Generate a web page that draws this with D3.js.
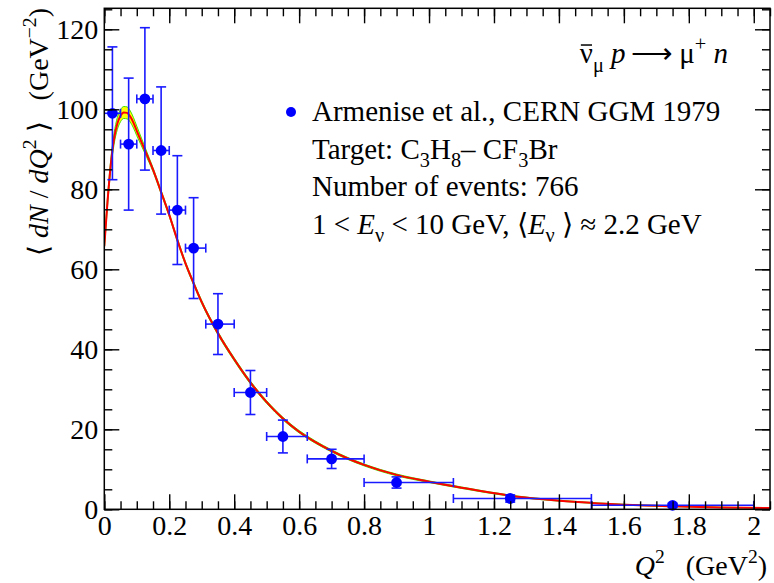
<!DOCTYPE html>
<html>
<head>
<meta charset="utf-8">
<script src="https://cdn.jsdelivr.net/npm/d3@7"></script>
<style>
  body { margin: 0; background: #fff; }
  text { font-family: "Liberation Serif", "Times New Roman", serif; fill: #000; }
</style>
</head>
<body>
<svg id="chart" width="774" height="583"></svg>
<script>
// Measured <dN/dQ2> per Q2 bin: bin centre, bin edges, value and uncertainty
const q2      = [0.025, 0.075, 0.125, 0.175, 0.225, 0.275, 0.35, 0.45, 0.55, 0.70, 0.90, 1.25, 1.75];
const q2Low   = [0.0, 0.05, 0.10, 0.15, 0.20, 0.25, 0.3125, 0.40, 0.50, 0.625, 0.80, 1.075, 1.50];
const q2High  = [0.05, 0.10, 0.15, 0.20, 0.25, 0.3125, 0.40, 0.50, 0.625, 0.80, 1.075, 1.50, 2.00];
const dNdQ2   = [99.0, 91.3, 102.6, 89.7, 74.8, 65.3, 46.3, 29.2, 18.2, 12.6, 6.7, 2.7, 1.0];
const dNdQ2Err= [16.6, 16.5, 17.8, 15.9, 13.6, 12.6, 7.6, 5.5, 4.1, 2.4, 1.4, 0.9, 0.5];

// Prediction: central curve and the half-width of its uncertainty band
const fitQ2   = [0.0, 0.01, 0.02, 0.03, 0.04, 0.05, 0.06, 0.07, 0.08, 0.09, 0.10, 0.125, 0.15, 0.175, 0.20, 0.225, 0.25,
                 0.275, 0.30, 0.35, 0.40, 0.45, 0.50, 0.55, 0.60, 0.65, 0.70, 0.75, 0.80, 0.90, 1.00, 1.10, 1.25,
                 1.50, 1.75, 2.05];
const fitVal  = [65.8, 77.0, 86.2, 92.6, 96.4, 98.4, 99.2, 99.1, 98.2, 96.6, 94.6, 89.8, 84.9, 79.3, 73.6, 67.3, 61.5,
                 56.5, 51.8, 44.0, 37.5, 31.7, 26.8, 22.7, 19.4, 16.8, 14.6, 12.7, 11.1, 8.6, 6.9, 5.4, 3.4,
                 1.6, 0.75, 0.3];
const fitBand = [1.0, 1.2, 1.3, 1.4, 1.5, 1.5, 1.5, 1.5, 1.4, 1.3, 1.2, 0.8, 0.5, 0.45, 0.4, 0.4, 0.4,
                 0.4, 0.4, 0.4, 0.38, 0.36, 0.34, 0.32, 0.3, 0.28, 0.26, 0.25, 0.24, 0.22, 0.2, 0.18, 0.15,
                 0.1, 0.07, 0.05];

// Axis ticks and labels
const xTicks = [0, 0.2, 0.4, 0.6, 0.8, 1.0, 1.2, 1.4, 1.6, 1.8, 2.0];
const xTickLabels = ["0", "0.2", "0.4", "0.6", "0.8", "1", "1.2", "1.4", "1.6", "1.8", "2"];
const yTicks = [0, 20, 40, 60, 80, 100, 120];
const yTickLabels = ["0", "20", "40", "60", "80", "100", "120"];

const svg = d3.select("#chart");
const pLeft = 104.3, pRight = 770, pTop = 8.3, pBottom = 509.3;
const x = d3.scaleLinear().domain([0, 2.05]).range([pLeft, pRight]);
const y = d3.scaleLinear().domain([0, 125.25]).range([pBottom, pTop]);
const FS = 28;     // axis labels and titles
const LFS = 29;    // legend and reaction label

svg.append("defs").append("clipPath").attr("id", "plotArea")
  .append("rect").attr("x", pLeft).attr("y", pTop).attr("width", pRight - pLeft).attr("height", pBottom - pTop);

// Rich text helper: parts are [string, kind] with kind in "", "i", "sub", "sup", "isub"
function rich(sel, parts, fs) {
  let shift = 0;
  parts.forEach(([str, k = ""]) => {
    const isSub = k.includes("sub"), isSup = k.includes("sup");
    const target = isSub ? fs * 0.3 : isSup ? -fs * 0.42 : 0;
    const t = sel.append("tspan").text(str).attr("dy", target - shift);
    shift = target;
    if (isSub || isSup) t.attr("font-size", fs * 0.7);
    if (k.startsWith("i")) t.attr("font-style", "italic");
  });
  return sel;
}

// Uncertainty band and central curve
const fitPts = fitQ2.map((q, i) => ({ q, v: fitVal[i], b: fitBand[i] }));
const band = d3.area().x(d => x(d.q)).y0(d => y(d.v - d.b)).y1(d => y(d.v + d.b)).curve(d3.curveMonotoneX);
const bandUp = d3.line().x(d => x(d.q)).y(d => y(d.v + d.b)).curve(d3.curveMonotoneX);
const bandLo = d3.line().x(d => x(d.q)).y(d => y(d.v - d.b)).curve(d3.curveMonotoneX);
const central = d3.line().x(d => x(d.q)).y(d => y(d.v)).curve(d3.curveMonotoneX);

const fitG = svg.append("g").attr("clip-path", "url(#plotArea)");
fitG.append("path").datum(fitPts).attr("d", band).attr("fill", "#ffff00");
fitG.append("path").datum(fitPts).attr("d", bandUp).attr("fill", "none").attr("stroke", "#44e000").attr("stroke-width", 1);
fitG.append("path").datum(fitPts).attr("d", bandLo).attr("fill", "none").attr("stroke", "#44e000").attr("stroke-width", 1);
fitG.append("path").datum(fitPts).attr("d", central).attr("fill", "none").attr("stroke", "#ff0000").attr("stroke-width", 2);

// Data points with error bars
const pts = q2.map((q, i) => ({ q, lo: q2Low[i], hi: q2High[i], v: dNdQ2[i], e: dNdQ2Err[i] }));
const ptG = svg.append("g").attr("stroke", "#1a1aff").attr("stroke-width", 1.6);
pts.forEach(d => {
  const cx = x(d.q), cy = y(d.v);
  const g = ptG.append("g");
  g.append("line").attr("x1", x(d.lo)).attr("x2", x(d.hi)).attr("y1", cy).attr("y2", cy);
  g.append("line").attr("x1", cx).attr("x2", cx).attr("y1", y(d.v - d.e)).attr("y2", y(d.v + d.e));
  if (d.lo > 0) g.append("line").attr("x1", x(d.lo)).attr("x2", x(d.lo)).attr("y1", cy - 4.5).attr("y2", cy + 4.5);
  g.append("line").attr("x1", x(d.hi)).attr("x2", x(d.hi)).attr("y1", cy - 4.5).attr("y2", cy + 4.5);
  g.append("line").attr("x1", cx - 5).attr("x2", cx + 5).attr("y1", y(d.v - d.e)).attr("y2", y(d.v - d.e));
  g.append("line").attr("x1", cx - 5).attr("x2", cx + 5).attr("y1", y(d.v + d.e)).attr("y2", y(d.v + d.e));
});
svg.append("g").selectAll("circle").data(pts).join("circle")
  .attr("cx", d => x(d.q)).attr("cy", d => y(d.v)).attr("r", 5.4).attr("fill", "#0000ff");

// Axes: major and minor ticks on all four sides, drawn inward
const xMinor = d3.range(0, 2.051, 0.05);
const yMinor = d3.range(0, 125.1, 5);
function styleAxis(g) {
  g.select(".domain").remove();
  g.selectAll("line").attr("stroke", "#000").attr("stroke-width", 1.4);
  g.selectAll("text").attr("font-family", "Liberation Serif, Times New Roman, serif").attr("font-size", FS).attr("fill", "#000");
}
svg.append("g").attr("transform", `translate(0,${pBottom})`)
  .call(d3.axisBottom(x).tickValues(xMinor).tickSize(-8).tickFormat("")).call(styleAxis);
svg.append("g").attr("transform", `translate(0,${pBottom})`)
  .call(d3.axisBottom(x).tickValues(xTicks).tickSize(-15).tickPadding(6)
    .tickFormat((d, i) => xTickLabels[i])).call(styleAxis);
svg.append("g").attr("transform", `translate(0,${pTop})`)
  .call(d3.axisTop(x).tickValues(xMinor).tickSize(-8).tickFormat("")).call(styleAxis);
svg.append("g").attr("transform", `translate(0,${pTop})`)
  .call(d3.axisTop(x).tickValues(xTicks).tickSize(-15).tickFormat("")).call(styleAxis);
svg.append("g").attr("transform", `translate(${pLeft},0)`)
  .call(d3.axisLeft(y).tickValues(yMinor).tickSize(-8).tickFormat("")).call(styleAxis);
svg.append("g").attr("transform", `translate(${pLeft},0)`)
  .call(d3.axisLeft(y).tickValues(yTicks).tickSize(-15).tickPadding(6)
    .tickFormat((d, i) => yTickLabels[i])).call(styleAxis);
svg.append("g").attr("transform", `translate(${pRight},0)`)
  .call(d3.axisRight(y).tickValues(yMinor).tickSize(-8).tickFormat("")).call(styleAxis);
svg.append("g").attr("transform", `translate(${pRight},0)`)
  .call(d3.axisRight(y).tickValues(yTicks).tickSize(-15).tickFormat("")).call(styleAxis);

svg.append("rect").attr("x", pLeft).attr("y", pTop).attr("width", pRight - pLeft).attr("height", pBottom - pTop)
  .attr("fill", "none").attr("stroke", "#000").attr("stroke-width", 1.5);

// Axis titles
rich(svg.append("text").attr("x", 767).attr("y", 575).attr("text-anchor", "end").attr("font-size", FS)
  .attr("xml:space", "preserve"),
  [["Q", "i"], ["2", "sup"], ["   (GeV"], ["2", "sup"], [")"]], FS);
rich(svg.append("text").attr("transform", "translate(48,8) rotate(-90)").attr("text-anchor", "end")
  .attr("font-size", FS).attr("xml:space", "preserve"),
  [["\u27E8 "], ["dN", "i"], [" / "], ["dQ", "i"], ["2", "sup"], [" \u27E9   (GeV"], ["\u22122", "sup"], [")"]], FS);

// Reaction label, with an overbar on the antineutrino
const reaction = rich(svg.append("text").attr("x", 728).attr("y", 63).attr("text-anchor", "end").attr("font-size", LFS),
  [["\u03BD"], ["\u03BC", "sub"], [" "], ["p", "i"], ["\u2009\u27F6\u2009"], ["\u03BC"], ["+", "sup"], [" "], ["n", "i"]], LFS);
{
  const node = reaction.node();
  const s = node.getStartPositionOfChar(0), e = node.getEndPositionOfChar(0);
  svg.append("line").attr("x1", s.x + 1).attr("x2", e.x - 1)
    .attr("y1", 63 - LFS * 0.62).attr("y2", 63 - LFS * 0.62)
    .attr("stroke", "#000").attr("stroke-width", 1.5);
}

// Legend
svg.append("circle").attr("cx", 291).attr("cy", 112).attr("r", 5).attr("fill", "#0000ff");
const lx = 312;
rich(svg.append("text").attr("x", lx).attr("y", 121).attr("font-size", LFS),
  [["Armenise et al., CERN GGM 1979"]], LFS);
rich(svg.append("text").attr("x", lx).attr("y", 158.5).attr("font-size", LFS),
  [["Target: C"], ["3", "sub"], ["H"], ["8", "sub"], ["\u2013 CF"], ["3", "sub"], ["Br"]], LFS);
rich(svg.append("text").attr("x", lx).attr("y", 196).attr("font-size", LFS),
  [["Number of events: 766"]], LFS);
rich(svg.append("text").attr("x", lx).attr("y", 233.5).attr("font-size", LFS).attr("xml:space", "preserve"),
  [["1 < "], ["E", "i"], ["\u03BD", "sub"], [" < 10 GeV, \u27E8"], ["E", "i"], ["\u03BD", "sub"], [" \u27E9 \u2248 2.2 GeV"]], LFS);
</script>
</body>
</html>
